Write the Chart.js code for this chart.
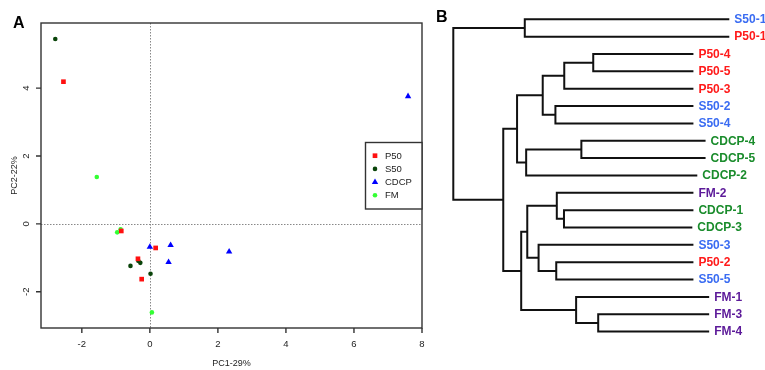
<!DOCTYPE html>
<html lang="en">
  <head>
    <meta charset="UTF-8" />
    <title>PCA and clustering</title>
    <script src="https://cdn.jsdelivr.net/npm/chart.js@4.4.1/dist/chart.umd.min.js"></script>
    <style>
      body { margin: 0; background: #fff; }
      #wrap { position: relative; width: 765px; height: 370px; overflow: hidden; }
      #pca { position: absolute; left: 0; top: 0; }
      #tree { position: absolute; left: 430px; top: 0; }
    </style>
  </head>
  <body>
    <div id="wrap">
      <canvas id="pca" width="430" height="370"></canvas>
      <canvas id="tree" width="335" height="370"></canvas>
    </div>

    <script>
      // ---- panel A data (PC1, PC2 scores) ----
      const p50 = [[-2.54, 4.19], [-0.84, -0.21], [-0.35, -1.03], [-0.24, -1.63], [0.17, -0.71]];
      const s50 = [[-2.78, 5.45], [-0.57, -1.24], [-0.34, -1.09], [-0.28, -1.15], [0.02, -1.47]];
      const cdcp = [[7.59, 3.76], [0.0, -0.68], [0.61, -0.63], [0.55, -1.13], [2.33, -0.82]];
      const fm = [[-1.56, 1.38], [-0.96, -0.25], [-0.86, -0.16], [0.06, -2.61]];
      const xTicks = [-2, 0, 2, 4, 6, 8];
      const yTicks = [-2, 0, 2, 4];

      // ---- panel B data (dendrogram) ----
      const leaves = ["S50-1", "P50-1", "P50-4", "P50-5", "P50-3", "S50-2", "S50-4",
        "CDCP-4", "CDCP-5", "CDCP-2", "FM-2", "CDCP-1", "CDCP-3",
        "S50-3", "P50-2", "S50-5", "FM-1", "FM-3", "FM-4"];
      const leafGroup = ["S50", "P50", "P50", "P50", "P50", "S50", "S50",
        "CDCP", "CDCP", "CDCP", "FM", "CDCP", "CDCP",
        "S50", "P50", "S50", "FM", "FM", "FM"];
      const tipHeight = [0, 0, 1.3, 1.3, 1.3, 1.3, 1.3, 0.86, 0.86, 1.16, 1.3, 1.3, 1.34,
        1.3, 1.3, 1.3, 0.73, 0.73, 0.73];
      // [left, right, height]; "mN" refers to merge N
      const merges = [
        ["P50-4", "P50-5", 4.93],
        ["m0", "P50-3", 5.98],
        ["S50-2", "S50-4", 6.3],
        ["m1", "m2", 6.76],
        ["CDCP-4", "CDCP-5", 5.36],
        ["m4", "CDCP-2", 7.36],
        ["m3", "m5", 7.69],
        ["CDCP-1", "CDCP-3", 5.99],
        ["FM-2", "m7", 6.25],
        ["P50-2", "S50-5", 6.27],
        ["S50-3", "m9", 6.91],
        ["m8", "m10", 7.32],
        ["FM-3", "FM-4", 4.75],
        ["FM-1", "m12", 5.55],
        ["m11", "m13", 7.54],
        ["m6", "m14", 8.19],
        ["S50-1", "P50-1", 7.41],
        ["m16", "m15", 10.0]
      ];

      const FONT = '"Liberation Sans", Arial, sans-serif';
      const toPts = (arr) => arr.map((p) => ({ x: p[0], y: p[1] }));

      // ---------------- panel A ----------------
      const pcaDecor = {
        id: "pcaDecor",
        beforeDatasetsDraw(chart) {
          const { ctx, chartArea: a, scales: { x, y } } = chart;
          ctx.save();
          ctx.strokeStyle = "#888";
          ctx.lineWidth = 1;
          ctx.setLineDash([1.5, 1.5]);
          const x0 = Math.round(x.getPixelForValue(0)) + 0.5;
          const y0 = Math.round(y.getPixelForValue(0)) + 0.5;
          ctx.beginPath();
          ctx.moveTo(x0, a.top); ctx.lineTo(x0, a.bottom);
          ctx.moveTo(a.left, y0); ctx.lineTo(a.right, y0);
          ctx.stroke();
          ctx.restore();
        },
        afterDraw(chart) {
          const { ctx, chartArea: a, scales: { x, y } } = chart;
          ctx.save();
          ctx.strokeStyle = "#333";
          ctx.lineWidth = 1.4;
          ctx.strokeRect(a.left, a.top, a.right - a.left, a.bottom - a.top);

          ctx.fillStyle = "#222";
          ctx.font = "9.5px " + FONT;
          ctx.textAlign = "center";
          ctx.textBaseline = "middle";
          ctx.beginPath();
          xTicks.forEach((t) => {
            const px = x.getPixelForValue(t);
            ctx.moveTo(px, a.bottom); ctx.lineTo(px, a.bottom + 5);
            ctx.fillText(String(t), px, a.bottom + 16);
          });
          yTicks.forEach((t) => {
            const py = y.getPixelForValue(t);
            ctx.moveTo(a.left, py); ctx.lineTo(a.left - 5, py);
            ctx.save();
            ctx.translate(a.left - 15, py);
            ctx.rotate(-Math.PI / 2);
            ctx.fillText(String(t), 0, 0);
            ctx.restore();
          });
          ctx.stroke();

          ctx.font = "9px " + FONT;
          ctx.fillText("PC1-29%", (a.left + a.right) / 2, 364);
          ctx.save();
          ctx.translate(15, (a.top + a.bottom) / 2);
          ctx.rotate(-Math.PI / 2);
          ctx.fillText("PC2-22%", 0, 0);
          ctx.restore();

          // legend
          const lx = 365.5, ly = 142.5, lw = a.right - lx, lh = 66.5;
          ctx.fillStyle = "#fff";
          ctx.fillRect(lx, ly, lw, lh);
          ctx.strokeStyle = "#333";
          ctx.lineWidth = 1.4;
          ctx.strokeRect(lx, ly, lw, lh);
          ctx.textAlign = "left";
          ctx.font = "9.5px " + FONT;
          chart.data.datasets.forEach((ds, i) => {
            const cy = 155.7 + i * 13.2;
            const st = { pointStyle: ds.pointStyle, radius: ds.pointRadius, borderWidth: 0 };
            ctx.fillStyle = ds.backgroundColor;
            ctx.strokeStyle = ds.backgroundColor;
            Chart.helpers.drawPoint(ctx, st, 375, cy);
            ctx.fillStyle = "#222";
            ctx.fillText(ds.label, 385, cy + 0.5);
          });

          ctx.fillStyle = "#000";
          ctx.font = "bold 16px " + FONT;
          ctx.fillText("A", 13, 24);
          ctx.restore();
        }
      };

      new Chart(document.getElementById("pca"), {
        type: "scatter",
        data: {
          datasets: [
            { label: "P50", data: toPts(p50), pointStyle: "rect", pointRadius: 3.3, backgroundColor: "#ff1010" },
            { label: "S50", data: toPts(s50), pointStyle: "circle", pointRadius: 2.3, backgroundColor: "#0a440a" },
            { label: "CDCP", data: toPts(cdcp), pointStyle: "triangle", pointRadius: 3.7, backgroundColor: "#0000ff" },
            { label: "FM", data: toPts(fm), pointStyle: "circle", pointRadius: 2.3, backgroundColor: "#33ff33" }
          ].map((d) => Object.assign(d, { borderWidth: 0, pointHoverRadius: d.pointRadius }))
        },
        options: {
          responsive: false,
          animation: false,
          devicePixelRatio: 1,
          layout: { padding: { left: 41, right: 8, top: 23, bottom: 42 } },
          scales: {
            x: { type: "linear", min: -3.2, max: 8, display: false },
            y: { type: "linear", min: -3.07, max: 5.92, display: false }
          },
          plugins: { legend: { display: false }, tooltip: { enabled: false } }
        },
        plugins: [pcaDecor]
      });

      // ---------------- panel B ----------------
      const nodes = {};
      leaves.forEach((name, i) => { nodes[name] = { h: tipHeight[i], y: i }; });
      const treeSets = merges.map((m, i) => {
        const a = nodes[m[0]], b = nodes[m[1]], h = m[2];
        nodes["m" + i] = { h: h, y: (a.y + b.y) / 2 };
        return {
          data: [{ x: a.h, y: a.y }, { x: h, y: a.y }, { x: h, y: b.y }, { x: b.h, y: b.y }],
          showLine: true,
          borderColor: "#111",
          borderWidth: 2,
          pointRadius: 0,
          tension: 0,
          fill: false
        };
      });

      const groupColor = { S50: "#3a6cf2", P50: "#ff1a1a", CDCP: "#1a8c2c", FM: "#5c1a99" };

      const treeLabels = {
        id: "treeLabels",
        afterDatasetsDraw(chart) {
          const { ctx, scales: { x, y } } = chart;
          ctx.save();
          ctx.font = "bold 12px " + FONT;
          ctx.textAlign = "left";
          ctx.textBaseline = "middle";
          leaves.forEach((name, i) => {
            ctx.fillStyle = groupColor[leafGroup[i]];
            ctx.fillText(name, x.getPixelForValue(tipHeight[i]) + 5, y.getPixelForValue(i) + 0.5);
          });
          ctx.fillStyle = "#000";
          ctx.font = "bold 16px " + FONT;
          ctx.fillText("B", 6, 18);
          ctx.restore();
        }
      };

      new Chart(document.getElementById("tree"), {
        type: "scatter",
        data: { datasets: treeSets },
        options: {
          responsive: false,
          animation: false,
          devicePixelRatio: 1,
          layout: { padding: 0 },
          scales: {
            x: { type: "linear", reverse: true, min: -1.293, max: 10.844, display: false },
            y: { type: "linear", reverse: true, min: -1.112, max: 20.213, display: false }
          },
          plugins: { legend: { display: false }, tooltip: { enabled: false } }
        },
        plugins: [treeLabels]
      });
    </script>
  </body>
</html>
